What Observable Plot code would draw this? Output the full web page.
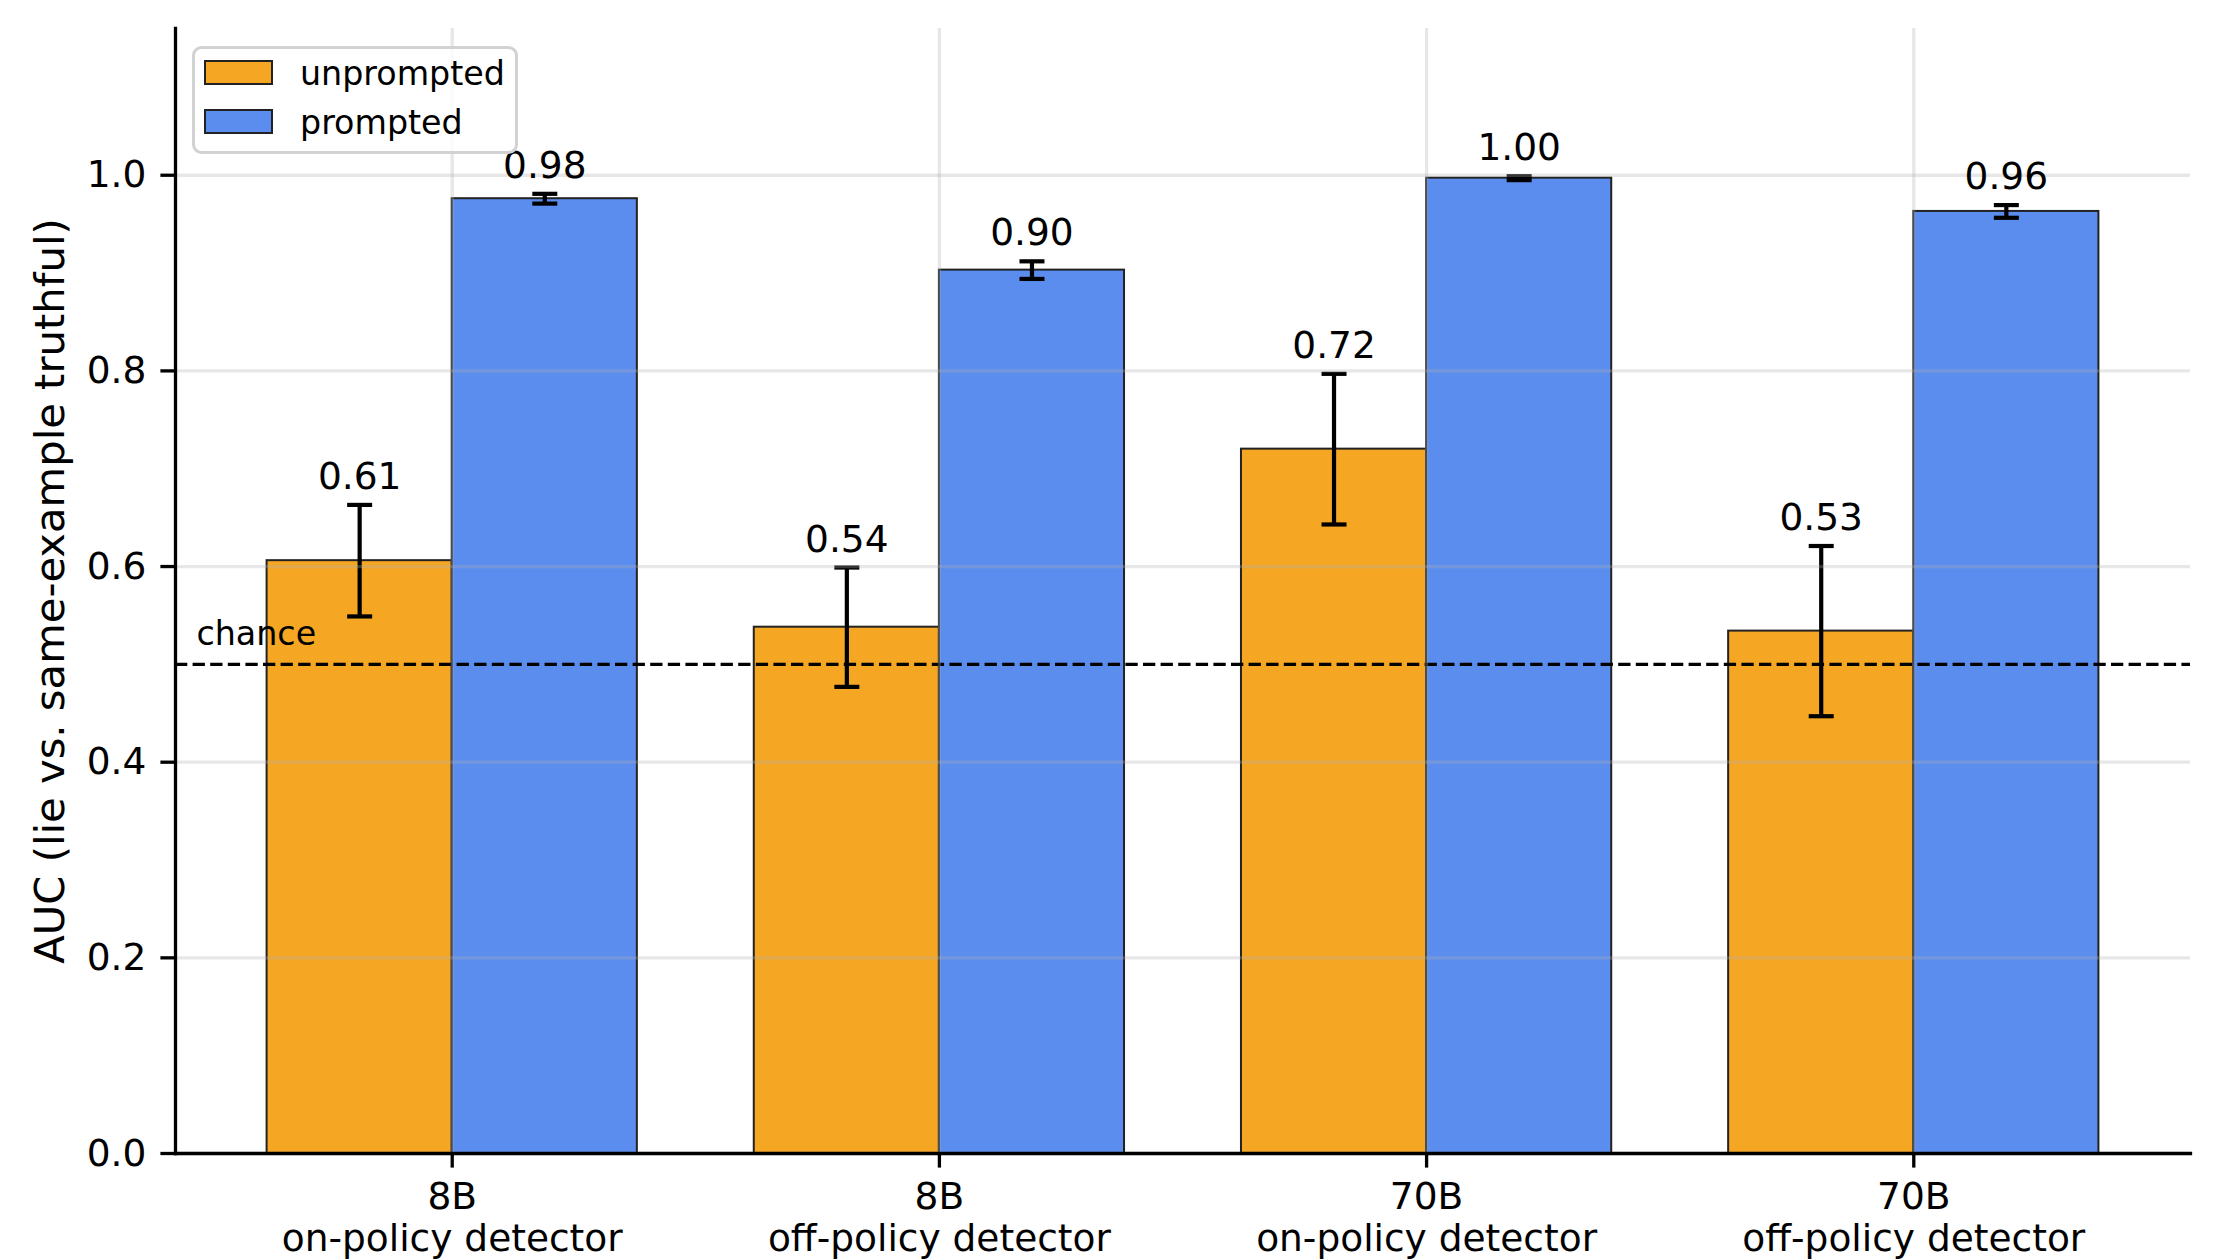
<!DOCTYPE html>
<html>
<head>
<meta charset="utf-8">
<script src="https://cdn.jsdelivr.net/npm/d3@7"></script>
<script src="https://cdn.jsdelivr.net/npm/@observablehq/plot@0.6"></script>
<style>
  html, body { margin: 0; padding: 0; background: #fff; }
  #chart { position: relative; width: 2218px; height: 1260px; font-family: "DejaVu Sans", sans-serif; }
  #legend { position: absolute; left: 0; top: 0; }
</style>
</head>
<body>
<div id="chart"></div>
<script>
// Detector AUC per model / detector type
const groups = [
  "8B\non-policy detector",
  "8B\noff-policy detector",
  "70B\non-policy detector",
  "70B\noff-policy detector"
];
const series = ["unprompted", "prompted"];
const unprompted = [0.606, 0.538, 0.72, 0.534];
const unpromptedErr = [0.057, 0.061, 0.077, 0.087];
const prompted = [0.976, 0.903, 0.997, 0.963];
const promptedErr = [0.005, 0.009, 0.002, 0.0065];
const chance = 0.5;
const yTicks = [0, 0.2, 0.4, 0.6, 0.8, 1.0];
const colors = ["#F5A623", "#5B8DEF"];
const yLabel = "AUC (lie vs. same-example truthful)";

const barWidth = 0.38;
const rows = [];
groups.forEach((g, i) => {
  rows.push({i, series: "unprompted", value: unprompted[i], err: unpromptedErr[i],
             x1: i - barWidth, x2: i, xc: i - barWidth / 2});
  rows.push({i, series: "prompted", value: prompted[i], err: promptedErr[i],
             x1: i, x2: i + barWidth, xc: i + barWidth / 2});
});

// horizontal cap for error bars, drawn as a dot symbol
const capSymbol = {
  draw(ctx, size) {
    const w = Math.sqrt(size / Math.PI);
    ctx.moveTo(-w, 0);
    ctx.lineTo(w, 0);
  }
};

const xPad = 0.05 * (groups.length - 1 + 2 * barWidth);
const groupIdx = d3.range(groups.length);

const plot = Plot.plot({
  width: 2218,
  height: 1260,
  marginLeft: 175,
  marginRight: 28,
  marginTop: 28,
  marginBottom: 107,
  style: {fontFamily: "DejaVu Sans", background: "white", color: "black"},
  x: {domain: [-barWidth - xPad, groups.length - 1 + barWidth + xPad]},
  y: {domain: [0, 1.15]},
  color: {domain: series, range: colors},
  marks: [
    Plot.rectY(rows, {x1: "x1", x2: "x2", y1: 0, y2: "value", fill: "series",
                      stroke: "#222", strokeWidth: 2}),
    Plot.ruleX(rows, {x: "xc", y1: d => d.value - d.err, y2: d => d.value + d.err,
                      stroke: "black", strokeWidth: 4.2}),
    Plot.dot(rows, {x: "xc", y: d => d.value + d.err, symbol: capSymbol, r: 12.5,
                    stroke: "black", strokeWidth: 4.2}),
    Plot.dot(rows, {x: "xc", y: d => d.value - d.err, symbol: capSymbol, r: 12.5,
                    stroke: "black", strokeWidth: 4.2}),
    Plot.ruleY([chance], {stroke: "black", strokeWidth: 3.3, strokeDasharray: "12.3,5.3"}),
    Plot.gridY(yTicks, {stroke: "#b0b0b0", strokeOpacity: 0.3, strokeWidth: 3.3}),
    Plot.gridX(groupIdx, {stroke: "#b0b0b0", strokeOpacity: 0.3, strokeWidth: 3.3}),
    Plot.text(rows, {x: "xc", y: d => d.value + d.err, text: d => d.value.toFixed(2),
                     dy: -16, lineAnchor: "bottom", fontSize: 37.5, fill: "black"}),
    Plot.text(["chance"], {x: -0.525, y: chance + 0.02, text: d => d, textAnchor: "start",
                           lineAnchor: "bottom", fontSize: 33.3, fill: "black"}),
    Plot.axisY(yTicks, {tickFormat: d => d.toFixed(1), tickSize: 14.6, tickPadding: 14.6,
                        strokeWidth: 3.3, fontSize: 37.5, label: null}),
    Plot.text([yLabel], {frameAnchor: "left", rotate: -90, dx: -112, text: d => d,
                         textAnchor: "middle", lineAnchor: "bottom", fontSize: 41.7, fill: "black"}),
    Plot.axisX(groupIdx, {tickFormat: i => groups[i], tickSize: 14.6, tickPadding: 12,
                          strokeWidth: 3.3, fontSize: 37.5, lineHeight: 1.1, label: null}),
    Plot.frame({anchor: "left", stroke: "black", strokeWidth: 3.3}),
    Plot.frame({anchor: "bottom", stroke: "black", strokeWidth: 3.3})
  ]
});

const chart = document.getElementById("chart");
chart.appendChild(plot);

// legend box in the upper-left corner of the plot area
const leg = d3.create("svg")
  .attr("id", "legend")
  .attr("width", 2218).attr("height", 200)
  .style("font-family", "DejaVu Sans");
leg.append("rect")
  .attr("x", 193.5).attr("y", 47.5).attr("width", 323).attr("height", 105)
  .attr("rx", 8).attr("ry", 8)
  .attr("fill", "rgba(255,255,255,0.8)")
  .attr("stroke", "#d2d2d2").attr("stroke-width", 3);
series.forEach((s, k) => {
  const top = 61 + k * 49;
  leg.append("rect")
    .attr("x", 205).attr("y", top).attr("width", 67).attr("height", 23)
    .attr("fill", colors[k]).attr("stroke", "#222").attr("stroke-width", 2);
  leg.append("text")
    .attr("x", 300).attr("y", 85 + k * 49)
    .attr("font-size", 33.3).attr("fill", "black")
    .text(s);
});
chart.appendChild(leg.node());
</script>
</body>
</html>
